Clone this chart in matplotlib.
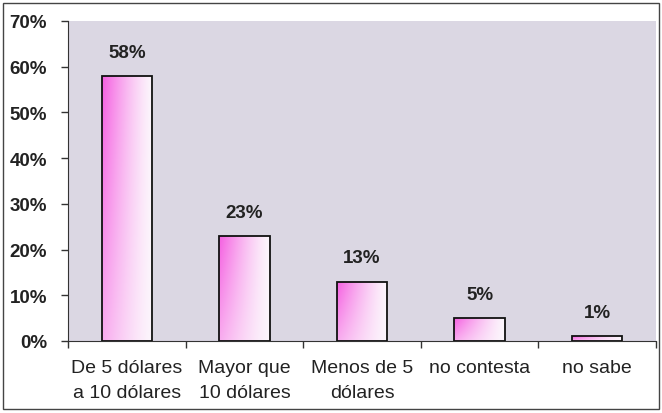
import numpy as np
import matplotlib
matplotlib.use("Agg")
import matplotlib.pyplot as plt
from matplotlib.patches import Rectangle

categories = ["De 5 dólares\na 10 dólares", "Mayor que\n10 dólares", "Menos de 5\ndólares", "no contesta", "no sabe"]
values = [58, 23, 13, 5, 1]
yticks = [0, 10, 20, 30, 40, 50, 60, 70]

plt.rcParams['font.family'] = ['Liberation Sans', 'DejaVu Sans']

fig = plt.figure(figsize=(6.62, 4.14), dpi=100)
fig.patch.set_facecolor("white")
ax = fig.add_axes([68/662, 1-342/414, 588/662, 320/414])
ax.set_facecolor("#dbd7e3")

x = np.arange(len(values))
bars = ax.bar(x, values, width=0.43, color="none", edgecolor="#111111", linewidth=1.3, zorder=3)

# degradado rosa -> blanco dentro de cada barra
gx = np.linspace(0, 1, 64)
gy = np.linspace(0, 1, 64)
GX, GY = np.meshgrid(gx, gy)
w = (1 - GX) ** 1.3 * (0.5 + 0.5 * GY)
pink = np.array([245, 95, 225]) / 255.0
white = np.array([252, 246, 252]) / 255.0
img = white[None, None, :] + (pink - white)[None, None, :] * w[..., None]
for b in bars:
    x0, y0 = b.get_x(), b.get_y()
    im = ax.imshow(img, extent=[x0, x0 + b.get_width(), y0, y0 + b.get_height()],
                   origin="lower", aspect="auto", zorder=2)
    im.set_clip_path(b)

for xi, v in zip(x, values):
    ax.annotate(f"{v}%", (xi, v), xytext=(0, 17), textcoords="offset points",
                ha="center", va="center", fontsize=13.5, fontweight="bold", color="#222222")

ax.set_xlim(-0.5, len(values) - 0.5)
ax.set_ylim(0, 70)
ax.set_yticks(yticks)
ax.set_yticklabels([f"{t}%" for t in yticks], fontsize=13.5, fontweight="bold", color="#222222")
ax.set_xticks(x)
ax.set_xticklabels(categories, fontsize=14, color="#222222", linespacing=1.6)
ax.set_xticks(np.arange(len(values) + 1) - 0.5, minor=True)
ax.tick_params(axis="x", which="major", length=0, pad=13)
ax.tick_params(axis="x", which="minor", length=5, width=1, color="#333333")
ax.tick_params(axis="y", length=5, width=1, color="#333333", pad=10)
for s in ["top", "right"]:
    ax.spines[s].set_visible(False)
ax.spines["left"].set_color("#333333")
ax.spines["bottom"].set_color("#333333")

fig.patches.append(Rectangle((3/662, 4/414), 656/662, 406/414, transform=fig.transFigure,
                             fill=False, edgecolor="#444444", linewidth=1))

fig.savefig("out.png", dpi=100)
